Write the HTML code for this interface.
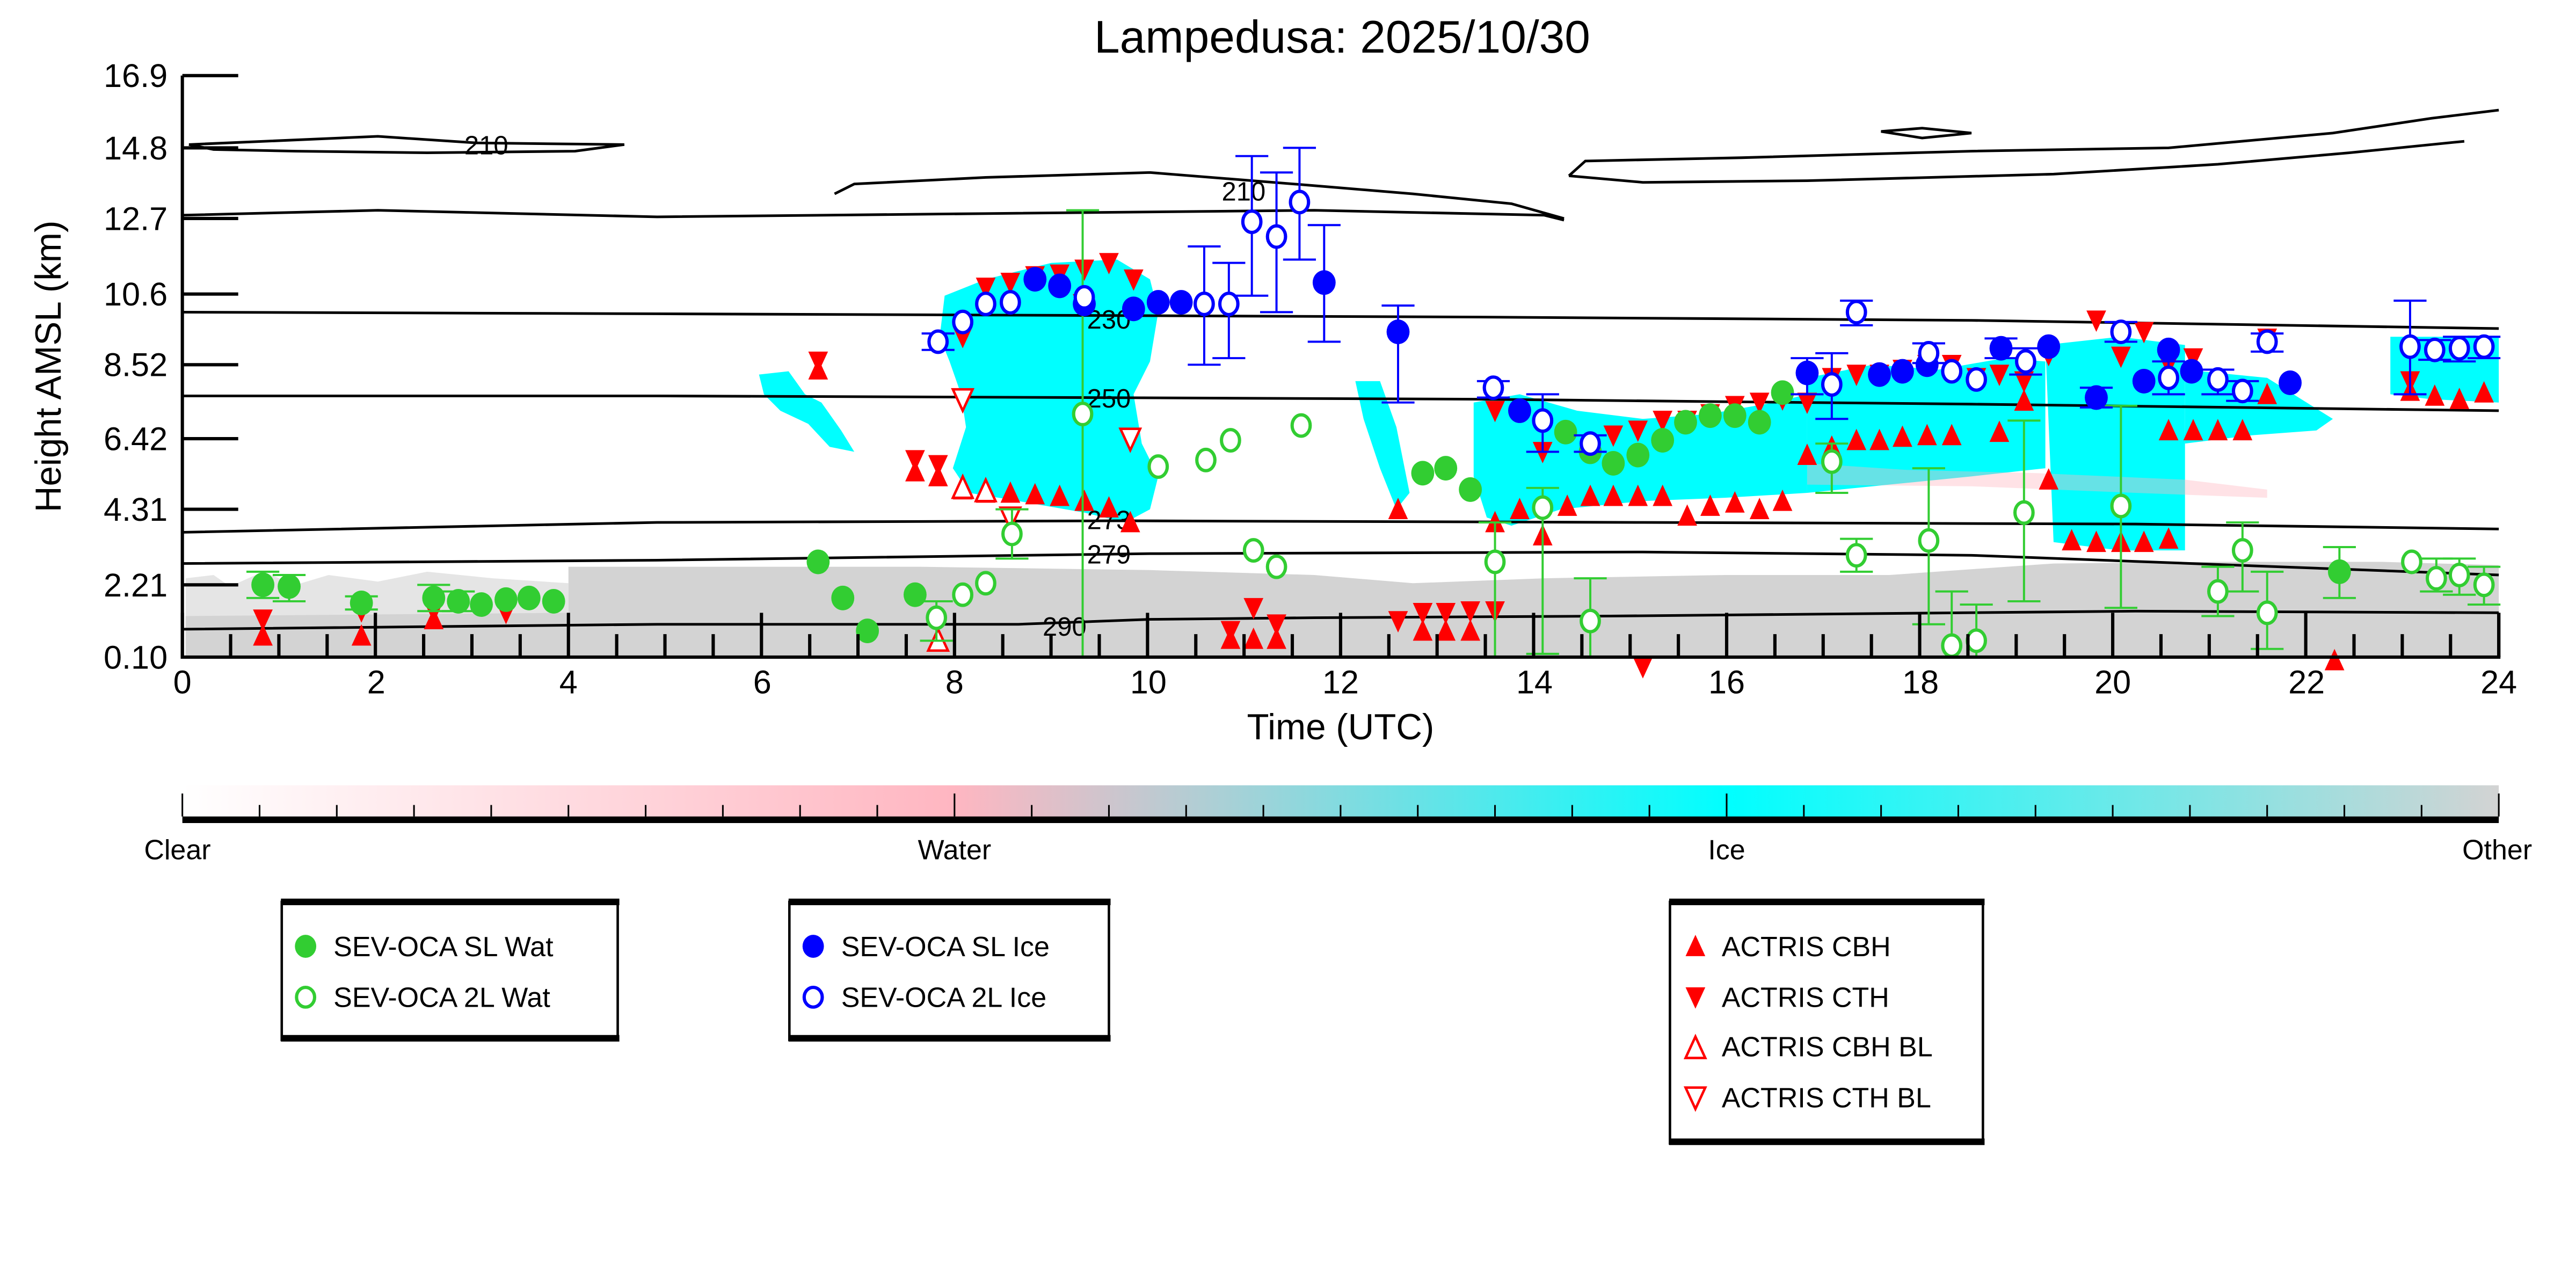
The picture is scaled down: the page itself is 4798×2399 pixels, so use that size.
<!DOCTYPE html>
<html><head><meta charset="utf-8"><style>html,body{margin:0;padding:0;background:#fff}svg{display:block}</style></head>
<body>
<svg id="s" width="4798" height="2399" viewBox="0 0 1568 784" preserveAspectRatio="none" xmlns="http://www.w3.org/2000/svg" font-family="Liberation Sans, DejaVu Sans, sans-serif">
<defs>
<linearGradient id="cb" x1="0" x2="1" y1="0" y2="0">
<stop offset="0" stop-color="#fff"/>
<stop offset="0.333" stop-color="#ffb6c1"/>
<stop offset="0.45" stop-color="#a9d0d6"/>
<stop offset="0.667" stop-color="#00ffff"/>
<stop offset="1" stop-color="#d3d3d3"/>
</linearGradient>
</defs>
<text x="817" y="32" font-size="28" text-anchor="middle">Lampedusa: 2025/10/30</text>
<g id="bg">
<path d="M113,400 L113,352 L130,350 L140,357 L160,348 L180,356 L200,350 L230,354 L260,348 L300,352 L346,355 L346,400 Z" fill="#d3d3d3" opacity="0.6"/>
<path d="M346,400 L346,345 L560,345 L700,347 L800,350 L860,355 L940,352 L1050,350 L1150,350 L1250,343 L1350,342 L1450,342 L1521,344 L1521,400 Z" fill="#d3d3d3"/>
<path d="M113,378 L200,375 L346,376 L346,392 L113,392 Z" fill="#ffb6c1" opacity="0.8"/>
<path d="M113,375 L346,373 L1521,368 L1521,400 L113,400 Z" fill="#d3d3d3"/>
<g fill="#00ffff">
<path d="M462,228 L480,226 L490,240 L500,245 L512,262 L520,275 L505,272 L492,258 L475,250 L465,240 Z"/>
<path d="M575,180 L600,170 L640,160 L680,158 L700,170 L705,190 L700,220 L690,240 L695,270 L705,290 L700,310 L685,318 L660,312 L620,305 L590,300 L580,285 L588,260 L585,240 L578,220 L572,205 Z"/>
<path d="M825,232 L840,232 L850,260 L858,300 L850,310 L840,285 L830,255 Z"/>
<path d="M897,245 L925,240 L960,250 L1000,255 L1040,252 L1080,245 L1100,240 L1100,300 L1050,303 L1000,305 L950,310 L920,320 L905,315 L897,290 Z"/>
<path d="M1100,230 L1140,222 L1180,225 L1220,218 L1245,220 L1245,285 L1200,290 L1150,295 L1100,300 Z"/>
<path d="M1245,210 L1290,205 L1330,210 L1330,335 L1290,335 L1250,330 Z"/>
<path d="M1330,225 L1380,230 L1420,255 L1410,262 L1370,265 L1330,270 Z"/>
<path d="M1455,205 L1521,205 L1521,245 L1480,243 L1455,240 Z"/>
</g>
<path d="M1100,282 L1160,286 L1240,288 L1330,292 L1380,298 L1380,303 L1300,300 L1200,296 L1100,295 Z" fill="#ffb6c1" opacity="0.4"/>
</g>
<g fill="none" stroke="#000" stroke-width="1.6">
<path d="M115,88 L230,83 L290,87 L380,88 L350,92 L260,93 L180,92 L130,91 L115,88"/>
<path d="M111,131 L230,128 L400,132 L600,130 L800,128 L940,131 L952,134"/>
<path d="M508,118 L520,112 L600,108 L700,105 L800,113 L860,118 L920,124 L952,133"/>
<path d="M955,107 L965,98 L1060,96 L1200,92 L1320,90 L1420,81 L1480,72 L1521,67"/>
<path d="M955,107 L1000,111 L1100,110 L1250,106 L1350,100 L1430,93 L1500,86"/>
<path d="M1145,80 L1170,78 L1200,81 L1170,84 Z"/>
<path d="M111,190 L400,191 L660,192 L900,193 L1200,195 L1521,200"/>
<path d="M111,241 L400,241 L660,242 L900,243 L1200,246 L1521,250"/>
<path d="M111,324 L400,318 L680,317 L1000,318 L1300,319 L1521,322"/>
<path d="M111,343 L400,341 L700,337 L1000,336 L1200,338 L1521,350"/>
<path d="M111,383 L400,380 L620,380 L700,377 L800,376 L980,375 L1300,372 L1521,373"/>
</g>
<g font-size="16" text-anchor="middle">
<text x="296" y="94">210</text><text x="757" y="122">210</text>
<text x="675" y="200">230</text><text x="675" y="248">250</text>
<text x="675" y="322">273</text><text x="675" y="343">279</text><text x="648" y="387">290</text>
</g>
<g id="mk"></g>
<g stroke="#000" stroke-width="2" fill="none">
<line x1="111" y1="46" x2="111" y2="401"/>
<line x1="110" y1="400" x2="1522" y2="400"/>
<line x1="1521" y1="373" x2="1521" y2="400"/>
</g>
<g id="ticks" stroke="#000" stroke-width="2"></g>
<g font-size="20" text-anchor="end">
<text x="102" y="53">16.9</text><text x="102" y="97">14.8</text><text x="102" y="140">12.7</text>
<text x="102" y="186">10.6</text><text x="102" y="229">8.52</text><text x="102" y="274">6.42</text>
<text x="102" y="317">4.31</text><text x="102" y="363">2.21</text><text x="102" y="407">0.10</text>
</g>
<g font-size="20" text-anchor="middle">
<text x="111" y="422">0</text><text x="229" y="422">2</text><text x="346" y="422">4</text><text x="464" y="422">6</text>
<text x="581" y="422">8</text><text x="699" y="422">10</text><text x="816" y="422">12</text><text x="934" y="422">14</text>
<text x="1051" y="422">16</text><text x="1169" y="422">18</text><text x="1286" y="422">20</text><text x="1404" y="422">22</text><text x="1521" y="422">24</text>
</g>
<text x="816" y="450" font-size="22" text-anchor="middle">Time (UTC)</text>
<text transform="translate(37,223) rotate(-90)" font-size="22" text-anchor="middle">Height AMSL (km)</text>
<rect x="111" y="478" width="1410" height="21" fill="url(#cb)"/>
<line x1="111" y1="499" x2="1521" y2="499" stroke="#000" stroke-width="4"/>
<g id="cbt" stroke="#000" stroke-width="1"></g>
<g font-size="17" text-anchor="middle">
<text x="108" y="523">Clear</text><text x="581" y="523">Water</text><text x="1051" y="523">Ice</text><text x="1520" y="523">Other</text>
</g>
<g fill="none" stroke="#000">
<rect x="171.5" y="549" width="204.5" height="84" stroke-width="1.5"/>
<line x1="171" y1="549" x2="377" y2="549" stroke-width="4"/><line x1="171" y1="632" x2="377" y2="632" stroke-width="4"/>
<rect x="480.5" y="549" width="194.5" height="84" stroke-width="1.5"/>
<line x1="480" y1="549" x2="676" y2="549" stroke-width="4"/><line x1="480" y1="632" x2="676" y2="632" stroke-width="4"/>
<rect x="1016.5" y="549" width="190.5" height="147" stroke-width="1.5"/>
<line x1="1016" y1="549" x2="1208" y2="549" stroke-width="4"/><line x1="1016" y1="695" x2="1208" y2="695" stroke-width="4"/>
</g>
<g font-size="17">
<text x="203" y="582">SEV-OCA SL Wat</text><text x="203" y="613">SEV-OCA 2L Wat</text>
<text x="512" y="582">SEV-OCA SL Ice</text><text x="512" y="613">SEV-OCA 2L Ice</text>
<text x="1048" y="582">ACTRIS CBH</text><text x="1048" y="613">ACTRIS CTH</text>
<text x="1048" y="643">ACTRIS CBH BL</text><text x="1048" y="674">ACTRIS CTH BL</text>
</g>
<ellipse cx="186" cy="576" rx="6.5" ry="7" fill="#32cd32"/>
<ellipse cx="186" cy="607" rx="5.5" ry="6" fill="none" stroke="#32cd32" stroke-width="2"/>
<ellipse cx="495" cy="576" rx="6.5" ry="7" fill="#0000ff"/>
<ellipse cx="495" cy="607" rx="5.5" ry="6" fill="none" stroke="#0000ff" stroke-width="2"/>
<path d="M1032,569 L1038,582 L1026,582 Z" fill="#f00"/>
<path d="M1026,601 L1038,601 L1032,614 Z" fill="#f00"/>
<path d="M1032,631 L1038,644 L1026,644 Z" fill="none" stroke="#f00" stroke-width="1.5"/>
<path d="M1026,662 L1038,662 L1032,675 Z" fill="none" stroke="#f00" stroke-width="1.5"/>
</svg>
<script>
(function(){
var NS="http://www.w3.org/2000/svg",mk=document.getElementById('mk');
function el(t,a,p){var e=document.createElementNS(NS,t);for(var k in a)e.setAttribute(k,a[k]);(p||mk).appendChild(e);return e;}
var tk=document.getElementById('ticks');
[46,90,133,179,222,267,310,356].forEach(function(y){el('line',{x1:111,y1:y,x2:145,y2:y},tk);});
for(var i=0;i<=48;i++){var x=111+i*29.375;var L=(i%4==0)?27:14;el('line',{x1:x,y1:400,x2:x,y2:400-L},tk);}
var cbt=document.getElementById('cbt');
for(var i=0;i<=30;i++){var x=111+i*47;var L=(i%10==0)?14:7;el('line',{x1:x,y1:497,x2:x,y2:497-L},cbt);}
var G="#32cd32",B="#0000ff",R="#f00";
function dot(x,y,c,open,eb){
 if(eb){el('line',{x1:x,y1:eb[0],x2:x,y2:eb[1],stroke:c,'stroke-width':1.3});
  el('line',{x1:x-10,y1:eb[0],x2:x+10,y2:eb[0],stroke:c,'stroke-width':1.3});
  el('line',{x1:x-10,y1:eb[1],x2:x+10,y2:eb[1],stroke:c,'stroke-width':1.3});}
 if(open)el('ellipse',{cx:x,cy:y,rx:5.5,ry:6.5,fill:'#fff',stroke:c,'stroke-width':2});
 else el('ellipse',{cx:x,cy:y,rx:7,ry:7.5,fill:c});
}
function up(x,y,o){el('path',{d:'M'+x+','+(y-7)+' L'+(x+6)+','+(y+6)+' L'+(x-6)+','+(y+6)+' Z',fill:o?'#fff':R,stroke:o?R:'none','stroke-width':1.5});}
function dn(x,y,o){el('path',{d:'M'+(x-6)+','+(y-6)+' L'+(x+6)+','+(y-6)+' L'+x+','+(y+7)+' Z',fill:o?'#fff':R,stroke:o?R:'none','stroke-width':1.5});}
[[160,377],[160,387],[220,372],[220,387],[264,372],[264,377],[308,373]].forEach(function(p,i){if(i%2)up(p[0],p[1]);else dn(p[0],p[1]);});
[[498,220],[557,280],[571,283],[586,205],[600,175],[615,172],[630,168],[645,167],[660,164],[675,160],[690,170],[659,185]].forEach(function(p){dn(p[0],p[1]);});
[[498,225],[557,287],[571,290],[586,298],[600,300],[615,300],[630,301],[645,302],[660,305],[675,309],[688,318],[851,310],[910,318],[925,310],[939,326],[954,308],[968,302],[982,302],[997,302],[1012,302],[1027,314],[1041,308],[1056,306],[1071,310],[1085,305],[1100,277],[1115,272],[1130,268],[1144,268],[1158,266],[1173,265],[1188,265],[1217,263],[1232,244],[1247,292],[1261,329],[1276,330],[1291,330],[1305,330],[1320,328],[1320,262],[1335,262],[1350,262],[1365,262],[1380,240],[1467,238],[1482,241],[1497,243],[1512,239],[763,389],[777,389],[866,384],[880,384],[895,384],[749,389],[1421,402]].forEach(function(p){up(p[0],p[1]);});
[[910,250],[939,275],[968,273],[982,265],[997,262],[1012,256],[1027,256],[1041,252],[1056,247],[1071,245],[1085,243],[1100,245],[1115,230],[1130,228],[1144,228],[1158,225],[1173,222],[1188,222],[1203,230],[1217,228],[1232,232],[1247,216],[1276,195],[1291,217],[1305,202],[1320,222],[1335,218],[1380,206],[1467,232],[763,370],[777,380],[851,378],[866,373],[880,373],[895,372],[910,372],[749,384],[1000,406]].forEach(function(p){dn(p[0],p[1]);});
[[586,243],[615,315],[688,267]].forEach(function(p){dn(p[0],p[1],1);});
[[571,390],[586,297],[600,299]].forEach(function(p){up(p[0],p[1],1);});
[[160,356,[348,364]],[176,357,[350,366]],[220,367,[363,371]],[264,364,[356,372]],[279,366,[360,372]],[293,368],[308,365],[322,364],[337,366],[498,342],[513,364],[528,384],[557,362],[866,288],[880,285],[895,298],[953,263],[982,282],[997,277],[1012,268],[1026,257],[1041,253],[1056,253],[1071,257],[1085,239],[968,275],[1424,348,[333,364]]].forEach(function(p){dot(p[0],p[1],G,0,p[2]);});
[[570,376,[366,390]],[586,362],[600,355],[616,325,[310,340]],[659,252,[128,400]],[705,284],[734,280],[749,268],[763,335],[777,345],[792,259],[910,342,[318,400]],[939,309,[297,398]],[968,378,[352,400]],[1115,281,[270,300]],[1130,338,[328,348]],[1174,329,[285,380]],[1188,393,[360,400]],[1203,390,[368,400]],[1232,312,[256,366]],[1291,308,[247,370]],[1350,360,[345,375]],[1365,335,[318,360]],[1380,373,[348,395]],[1468,342],[1483,352,[340,360]],[1497,350,[340,362]],[1512,356,[345,368]]].forEach(function(p){dot(p[0],p[1],G,1,p[2]);});
[[630,170],[645,174],[660,185],[690,188],[705,184],[719,184],[806,172,[137,208]],[851,202,[186,245]],[925,250],[1100,227,[218,240]],[1144,228],[1158,226],[1173,222],[1218,212,[206,218]],[1247,211],[1276,242,[236,248]],[1305,232],[1320,213],[1334,226],[1394,233]].forEach(function(p){dot(p[0],p[1],B,0,p[2]);});
[[571,208,[203,213]],[586,196],[600,185],[615,184],[660,181],[733,185,[150,222]],[748,185,[160,218]],[762,135,[95,180]],[777,144,[105,190]],[791,123,[90,158]],[909,236,[232,242]],[939,256,[240,275]],[968,270,[265,275]],[1115,234,[215,255]],[1130,190,[183,198]],[1174,215,[209,221]],[1188,226],[1203,231],[1233,220,[212,228]],[1291,202,[196,208]],[1320,230,[220,240]],[1350,231,[225,240]],[1365,238,[232,244]],[1380,208,[203,214]],[1467,211,[183,240]],[1482,213,[207,219]],[1497,212,[205,220]],[1512,211,[205,218]]].forEach(function(p){dot(p[0],p[1],B,1,p[2]);});
})();
</script>
</body></html>
